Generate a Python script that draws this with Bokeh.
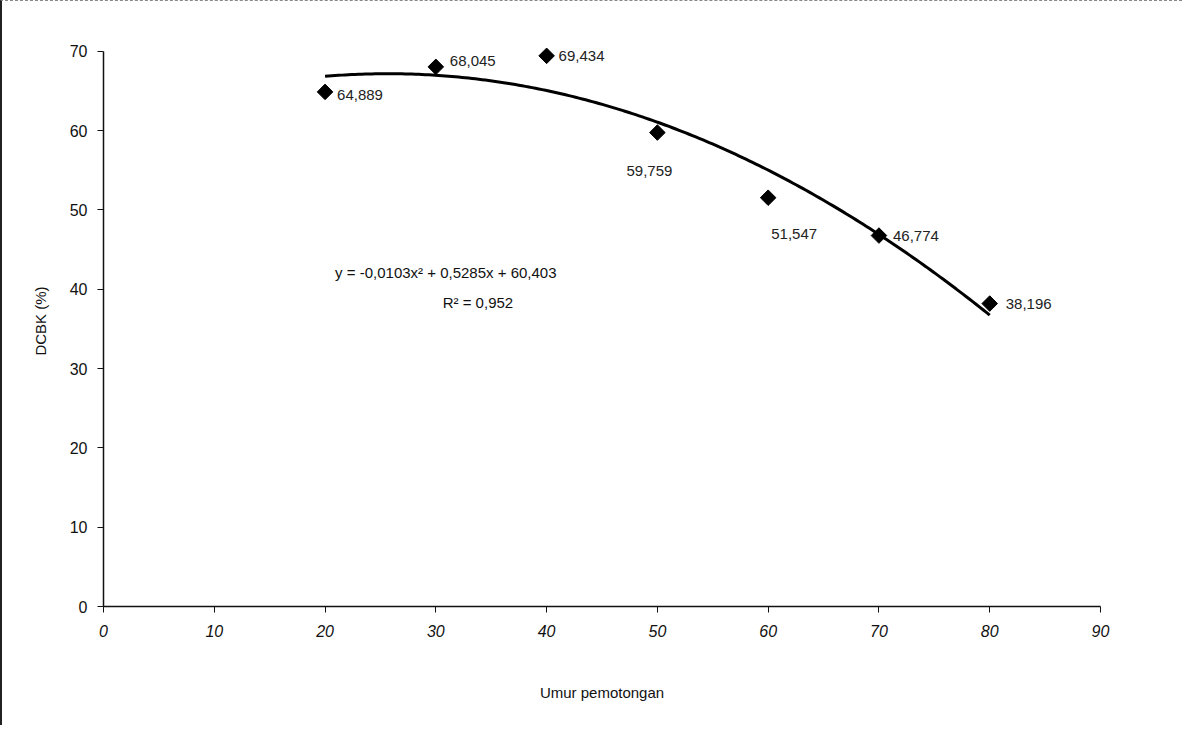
import numpy as np
from bokeh.plotting import figure
from bokeh.models import Range1d, ColumnDataSource, Label, FixedTicker
from bokeh.core.properties import value
from bokeh.embed import file_html
from bokeh.resources import INLINE

# --- data ---
umur = [20, 30, 40, 50, 60, 70, 80]
dcbk = [64.889, 68.045, 69.434, 59.759, 51.547, 46.774, 38.196]
labels = ["64,889", "68,045", "69,434", "59,759", "51,547", "46,774", "38,196"]
x_ticks = [0, 10, 20, 30, 40, 50, 60, 70, 80, 90]
y_ticks = [0, 10, 20, 30, 40, 50, 60, 70]
equation = "y = -0,0103x\u00b2 + 0,5285x + 60,403"
r2_text = "R\u00b2 = 0,952"

# label placement (screen px offsets, +down), kept separate from data
lab_dx = [12, 14, 12, -8, 26, 14, 16]
lab_dy = [3, -6, 0, 38, 36, 0, 0]
lab_align = ["left", "left", "left", "center", "center", "left", "left"]

FONT = "Liberation Sans"

p = figure(width=1182, height=725, output_backend="svg", toolbar_location=None,
           x_range=Range1d(0, 90), y_range=Range1d(0, 72),
           min_border_left=101, min_border_top=34, min_border_right=84,
           min_border_bottom=120)
p.styles = {"border-left": "2px solid #222", "border-top": "1px dashed #888"}

p.grid.visible = False
p.outline_line_color = None
p.background_fill_color = "white"
p.border_fill_color = "white"

# axes
for ax in (p.xaxis[0], p.yaxis[0]):
    ax.axis_line_color = "#111"
    ax.axis_line_width = 1.5
    ax.major_tick_line_color = "#111"
    ax.major_tick_out = 6
    ax.major_tick_in = 0
    ax.minor_tick_line_color = None
    ax.major_label_text_font = FONT
    ax.major_label_text_font_size = "16px"
    ax.major_label_text_color = "#111"
    ax.axis_label_text_font = FONT
    ax.axis_label_text_font_style = "normal"
    ax.axis_label_text_font_size = "15px"
    ax.axis_label_text_color = "#111"

p.yaxis.bounds = (0, 70)
p.xaxis.ticker = FixedTicker(ticks=x_ticks)
p.yaxis.ticker = FixedTicker(ticks=y_ticks)
p.xaxis.major_label_text_font_style = "italic"
p.xaxis.major_label_standoff = 12
p.yaxis.major_label_standoff = 10
p.xaxis.axis_label = "Umur pemotongan"
p.yaxis.axis_label = "DCBK (%)"
p.xaxis.axis_label_standoff = 44
p.yaxis.axis_label_standoff = 18

# trendline: quadratic fit of the data
coef = np.polyfit(umur, dcbk, 2)
xs = np.linspace(min(umur), max(umur), 200)
p.line(xs, np.polyval(coef, xs), line_color="black", line_width=3)

src = ColumnDataSource(dict(x=umur, y=dcbk, lab=labels, dx=lab_dx, dy=lab_dy, al=lab_align))
p.scatter("x", "y", source=src, marker="square", angle=np.pi / 4, size=11,
          fill_color="black", line_color="black")
p.text("x", "y", text="lab", source=src, x_offset="dx", y_offset="dy",
       text_align="al", text_baseline="middle", text_font=value(FONT),
       text_font_size="15px", text_color="#222")

p.add_layout(Label(x=30.9, y=42.1, text=equation, text_align="center",
                   text_baseline="middle", text_font=FONT, text_font_size="15px",
                   text_color="#111"))
p.add_layout(Label(x=33.8, y=38.3, text=r2_text, text_align="center",
                   text_baseline="middle", text_font=FONT, text_font_size="15px",
                   text_color="#111"))

open("out.html", "w").write(file_html(p, INLINE))
